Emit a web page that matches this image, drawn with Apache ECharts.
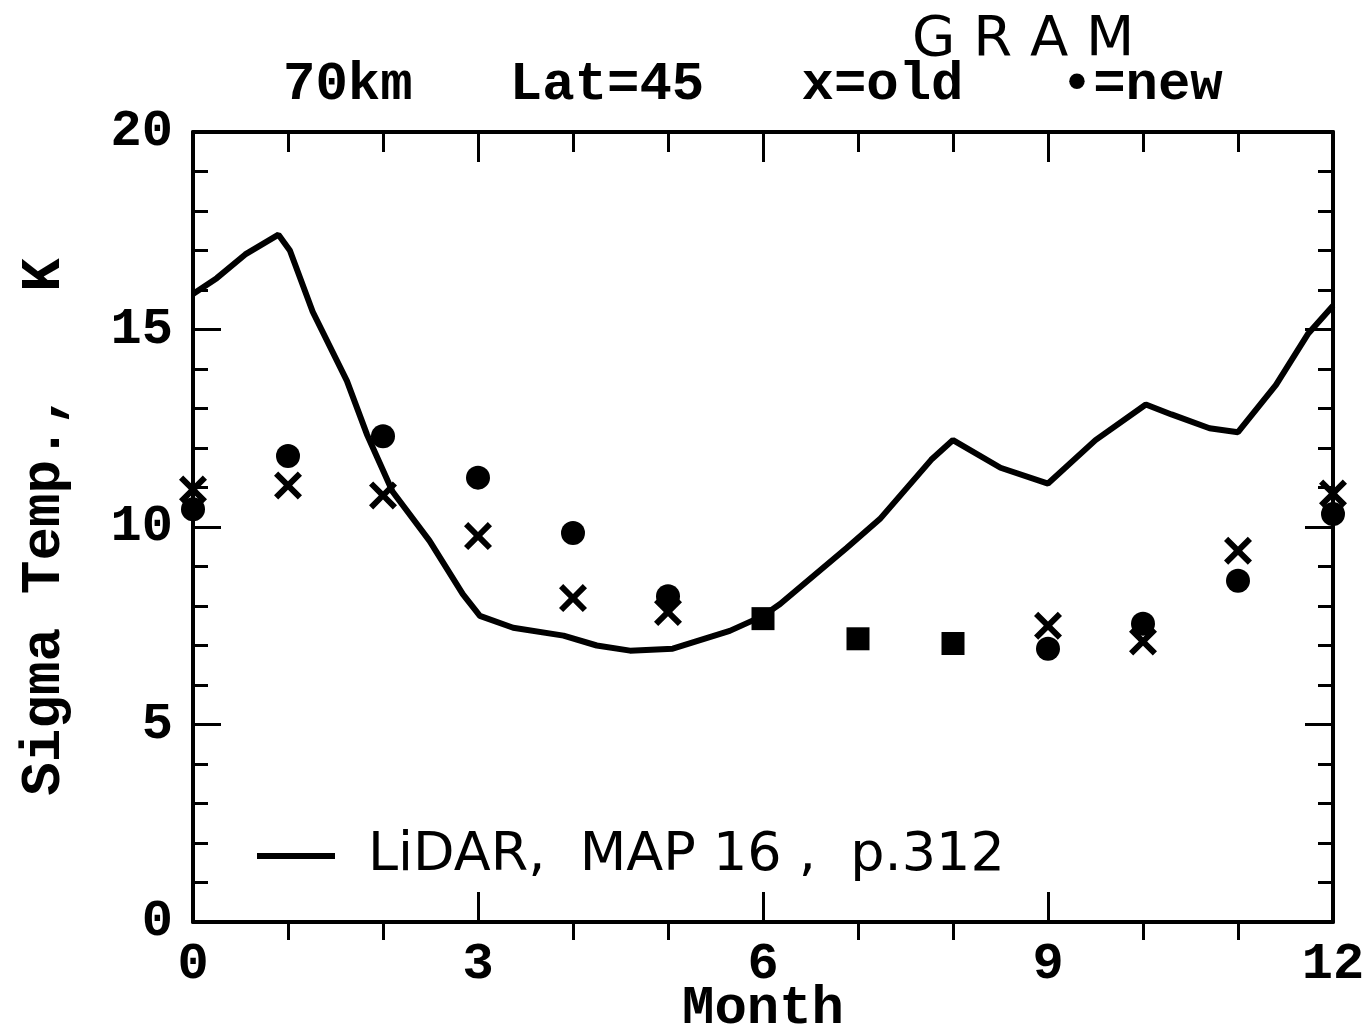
<!DOCTYPE html>
<html>
<head>
<meta charset="utf-8">
<script src="https://cdn.jsdelivr.net/npm/echarts@6/dist/echarts.min.js"></script>
<style>
  html, body { margin: 0; padding: 0; background: #fff; }
  #chart { width: 1364px; height: 1029px; }
</style>
</head>
<body>
<div id="chart"></div>
<script>
// month numbers for the GRAM points
var months = [0, 1, 2, 3, 4, 5, 6, 7, 8, 9, 10, 11, 12];
// x = old GRAM values
var oldVals = [10.95, 11.05, 10.8, 9.77, 8.2, 7.85, 7.68, 7.17, 7.05, 7.5, 7.1, 9.4, 10.85];
// dot = new GRAM values
var newVals = [10.45, 11.8, 12.3, 11.25, 9.85, 8.25, 7.68, 7.17, 7.05, 6.92, 7.55, 8.64, 10.33];
// LIDAR curve (MAP 16, p.312)
var lidarMonth = [0, 0.25, 0.55, 0.9, 1.02, 1.26, 1.62, 1.83, 2.1, 2.49, 2.84, 3.02, 3.37, 3.9, 4.25, 4.6, 5.05, 5.65, 6.0, 6.18, 6.88, 7.23, 7.77, 8.0, 8.5, 9.0, 9.5, 10.03, 10.3, 10.7, 11.0, 11.4, 11.74, 12.0];
var lidarVals = [15.9, 16.3, 16.9, 17.4, 17.0, 15.45, 13.7, 12.35, 10.9, 9.65, 8.3, 7.75, 7.45, 7.25, 7.0, 6.87, 6.92, 7.37, 7.75, 8.05, 9.47, 10.2, 11.7, 12.2, 11.5, 11.1, 12.2, 13.1, 12.85, 12.5, 12.4, 13.6, 14.9, 15.6];

var mono = '"Liberation Mono", "DejaVu Sans Mono", monospace';
var hand = '"DejaVu Sans", sans-serif';
var crossPath = 'path://M0,3 L3,0 L10,7 L17,0 L20,3 L13,10 L20,17 L17,20 L10,13 L3,20 L0,17 L7,10 Z';
var lidarName = 'LiDAR,  MAP 16 ,  p.312';

var oldData = months.map(function (m, i) { return [m, oldVals[i]]; });
var newData = months.map(function (m, i) { return [m, newVals[i]]; });
var lidarData = lidarMonth.map(function (m, i) { return [m, lidarVals[i]]; });

// where old and new coincide the plotter drew a solid square
function same(i) { return oldVals[i] === newVals[i]; }

var axisLineStyle = { onZero: false, lineStyle: { color: '#000', width: 4 } };
var tickStyle = { color: '#000', width: 3 };

var chart = echarts.init(document.getElementById('chart'));
var option = {
  backgroundColor: '#fff',
  animation: false,
  grid: { left: 193, right: 31, top: 132, bottom: 107, outerBoundsMode: 'none', containLabel: false },
  graphic: [
    {
      type: 'text', x: 283, y: 58,
      style: { text: '70km   Lat=45   x=old   \u2022=new', font: 'bold 54px ' + mono, fill: '#000' }
    },
    {
      type: 'text', x: 912, y: 12,
      style: { text: 'G R A M', font: '56px ' + hand, fill: '#000' }
    }
  ],
  legend: {
    data: [{ name: lidarName, icon: 'rect' }],
    left: 252, top: 824,
    itemWidth: 78, itemHeight: 6,
    textStyle: { fontSize: 54, fontFamily: hand, color: '#000', padding: [0, 0, 0, 28] }
  },
  xAxis: [
    {
      type: 'value', min: 0, max: 12, interval: 3,
      name: 'Month', nameLocation: 'middle', nameGap: 60, nameMoveOverlap: false,
      nameTextStyle: { fontSize: 54, fontFamily: mono, fontWeight: 'bold', color: '#000' },
      axisLine: axisLineStyle,
      axisTick: { inside: true, length: 30, lineStyle: tickStyle },
      minorTick: { show: true, splitNumber: 3, length: -18, lineStyle: tickStyle },
      axisLabel: { fontSize: 52, fontFamily: mono, fontWeight: 'bold', color: '#000', margin: 17 },
      splitLine: { show: false }
    },
    {
      type: 'value', min: 0, max: 12, interval: 3, position: 'top',
      axisLine: axisLineStyle,
      axisTick: { inside: true, length: 30, lineStyle: tickStyle },
      minorTick: { show: true, splitNumber: 3, length: 20, lineStyle: tickStyle },
      axisLabel: { show: false },
      splitLine: { show: false }
    }
  ],
  yAxis: [
    {
      type: 'value', min: 0, max: 20, interval: 5,
      name: 'Sigma Temp.,   K', nameLocation: 'middle', nameGap: 120, nameMoveOverlap: false,
      nameTextStyle: { fontSize: 56, fontFamily: mono, fontWeight: 'bold', color: '#000' },
      axisLine: axisLineStyle,
      axisTick: { inside: true, length: 28, lineStyle: tickStyle },
      minorTick: { show: true, splitNumber: 5, length: 15, lineStyle: tickStyle },
      axisLabel: { fontSize: 52, fontFamily: mono, fontWeight: 'bold', color: '#000', margin: 20 },
      splitLine: { show: false }
    },
    {
      type: 'value', min: 0, max: 20, interval: 5, position: 'right',
      axisLine: axisLineStyle,
      axisTick: { inside: true, length: 28, lineStyle: tickStyle },
      minorTick: { show: true, splitNumber: 5, length: 15, lineStyle: tickStyle },
      axisLabel: { show: false },
      splitLine: { show: false }
    }
  ],
  series: [
    {
      name: lidarName,
      type: 'line',
      data: lidarData,
      symbol: 'none',
      lineStyle: { color: '#000', width: 6 },
      itemStyle: { color: '#000' },
      z: 2
    },
    {
      name: 'old',
      type: 'scatter',
      data: oldData,
      clip: false,
      symbol: function (v, p) { return same(p.dataIndex) ? 'none' : crossPath; },
      symbolSize: 28,
      itemStyle: { color: '#000', opacity: 1 },
      z: 3
    },
    {
      name: 'new',
      type: 'scatter',
      data: newData,
      clip: false,
      symbol: function (v, p) { return same(p.dataIndex) ? 'rect' : 'circle'; },
      symbolSize: function (v, p) { return same(p.dataIndex) ? 23 : 24; },
      itemStyle: { color: '#000', opacity: 1 },
      z: 4
    }
  ]
};
chart.setOption(option);
</script>
</body>
</html>
